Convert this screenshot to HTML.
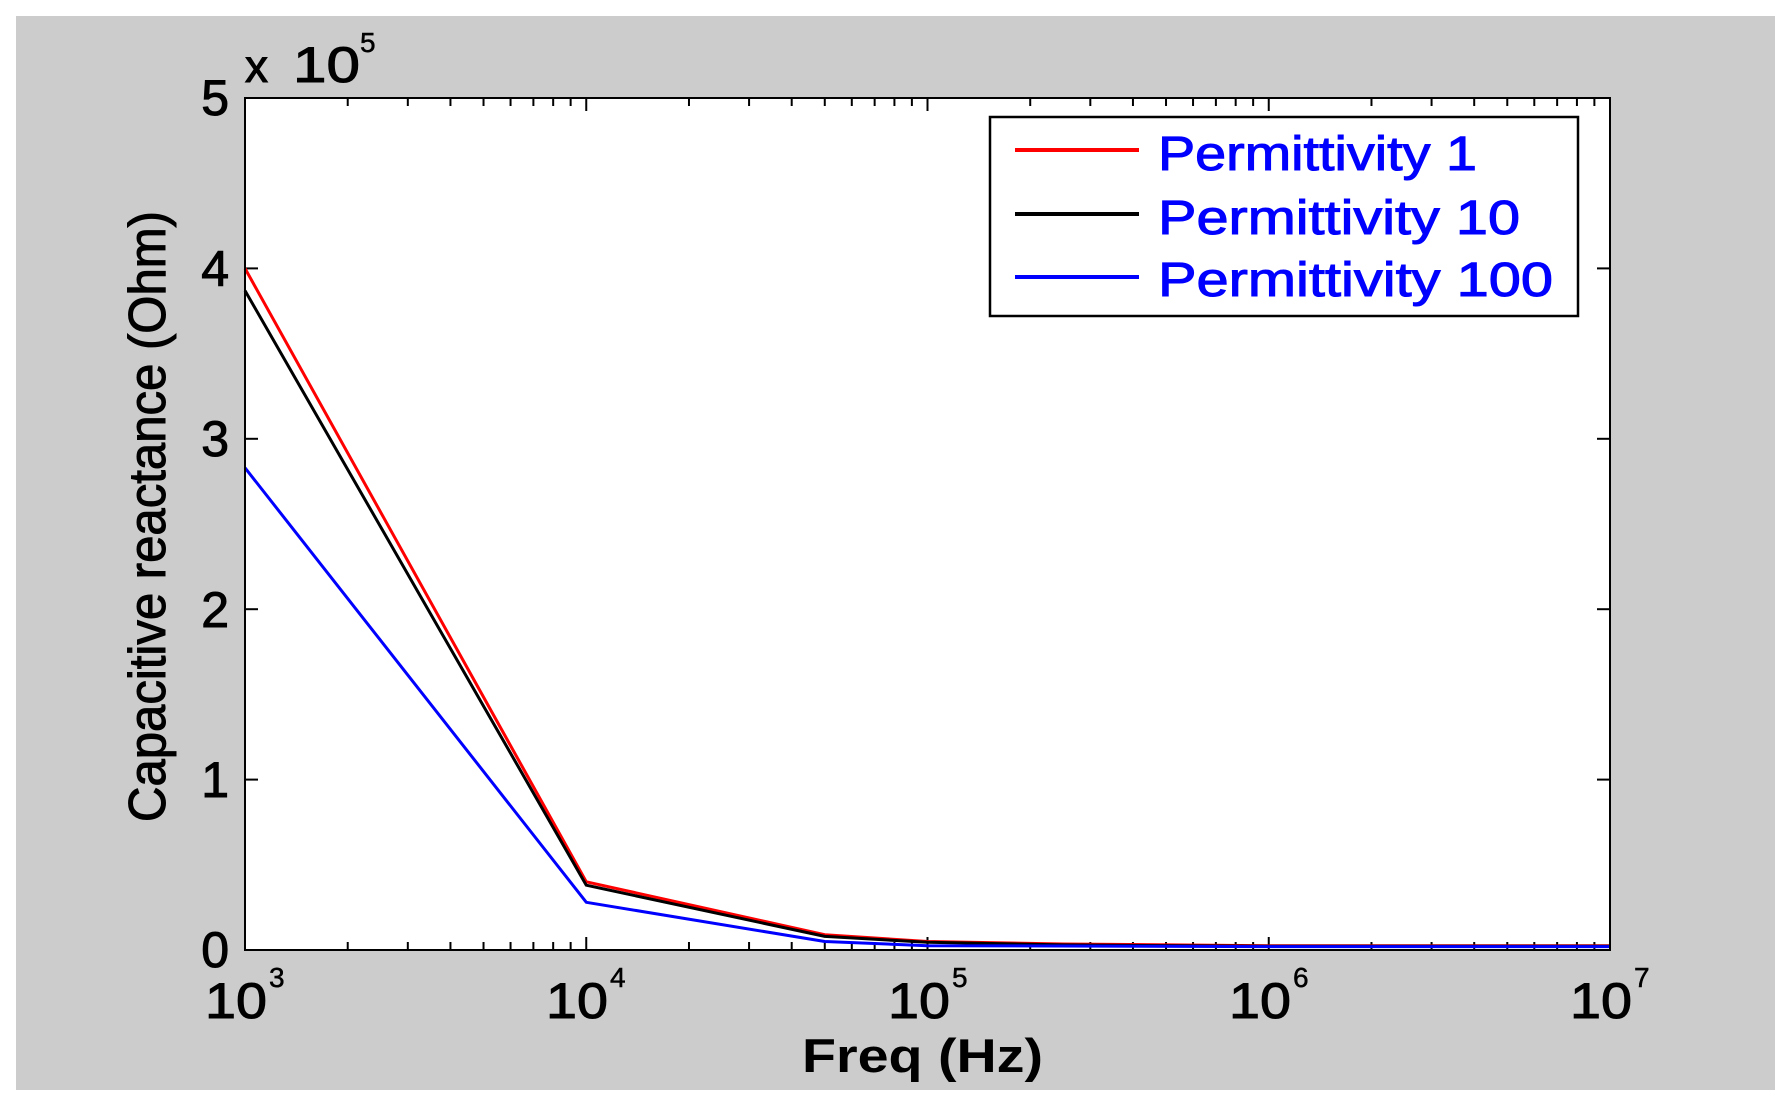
<!DOCTYPE html>
<html><head><meta charset="utf-8"><style>html,body{margin:0;padding:0;background:#fff}svg{display:block}</style></head><body>
<svg id="s" width="1790" height="1106" xmlns="http://www.w3.org/2000/svg" font-family="Liberation Sans, Arial, sans-serif">
<rect x="0" y="0" width="1790" height="1106" fill="#fff"/>
<rect x="16" y="16" width="1759" height="1074" fill="#cccccc"/>
<rect x="245" y="98" width="1365" height="852" fill="#fff"/>
<g id="ticks" stroke="#000" stroke-width="2" fill="none"></g>
<g fill="none" stroke-width="3" stroke-linejoin="round">
<polyline id="red" stroke="#ff0000" points=""/>
<polyline id="blk" stroke="#000" points=""/>
<polyline id="blu" stroke="#0000ff" points=""/>
</g>
<rect x="245" y="98" width="1365" height="852" fill="none" stroke="#000" stroke-width="2"/>
<g font-size="50" fill="#000" stroke="#000" stroke-width="1" text-anchor="end">
<text x="229" y="967">0</text><text x="229" y="797">1</text><text x="229" y="627">2</text><text x="229" y="456">3</text><text x="229" y="286">4</text><text x="229" y="115">5</text>
</g>
<g font-size="50" fill="#000" stroke="#000" stroke-width="1">
<text x="205" y="1018" textLength="62" lengthAdjust="spacingAndGlyphs">10</text><text x="269" y="987" font-size="28" stroke-width="0.5">3</text>
<text x="546" y="1018" textLength="62" lengthAdjust="spacingAndGlyphs">10</text><text x="610" y="987" font-size="28" stroke-width="0.5">4</text>
<text x="888" y="1018" textLength="62" lengthAdjust="spacingAndGlyphs">10</text><text x="952" y="987" font-size="28" stroke-width="0.5">5</text>
<text x="1229" y="1018" textLength="62" lengthAdjust="spacingAndGlyphs">10</text><text x="1293" y="987" font-size="28" stroke-width="0.5">6</text>
<text x="1570" y="1018" textLength="62" lengthAdjust="spacingAndGlyphs">10</text><text x="1634" y="987" font-size="28" stroke-width="0.5">7</text>
<text x="245" y="82" font-size="46">x</text>
<text x="293" y="82" textLength="67" lengthAdjust="spacingAndGlyphs">10</text><text x="360" y="52" font-size="28" stroke-width="0.5">5</text>
</g>
<text x="802" y="1072" font-size="47" font-weight="bold" textLength="241" lengthAdjust="spacingAndGlyphs">Freq (Hz)</text>
<text transform="translate(165,822) rotate(-90)" font-size="52" stroke="#000" stroke-width="1" textLength="611" lengthAdjust="spacingAndGlyphs">Capacitive reactance (Ohm)</text>
<rect x="990" y="117" width="588" height="199" fill="#fff" stroke="#000" stroke-width="2.5"/>
<line x1="1015" y1="150" x2="1139" y2="150" stroke="#ff0000" stroke-width="4"/>
<line x1="1015" y1="214" x2="1139" y2="214" stroke="#000" stroke-width="4"/>
<line x1="1015" y1="277" x2="1139" y2="277" stroke="#0000ff" stroke-width="4"/>
<g font-size="48" fill="#0000ff" stroke="#0000ff" stroke-width="1">
<text x="1158" y="170" textLength="319" lengthAdjust="spacingAndGlyphs">Permittivity 1</text>
<text x="1158" y="234" textLength="362" lengthAdjust="spacingAndGlyphs">Permittivity 10</text>
<text x="1158" y="296" textLength="395" lengthAdjust="spacingAndGlyphs">Permittivity 100</text>
</g>
<script>
(function(){
var NS="http://www.w3.org/2000/svg";
var L=245,R=1610,T=98,B=950,D=(R-L)/4;
function X(f){return L+(Math.log10(f)-3)*D;}
function Y(v){return B-v*(B-T)/5;}
var g=document.getElementById('ticks');
function ln(x1,y1,x2,y2){var e=document.createElementNS(NS,'line');e.setAttribute('x1',x1);e.setAttribute('y1',y1);e.setAttribute('x2',x2);e.setAttribute('y2',y2);g.appendChild(e);}
for(var d=3;d<7;d++){for(var k=1;k<10;k++){if(k==1&&d==3)continue;var x=X(k*Math.pow(10,d));var len=(k==1)?13:8;ln(x,B,x,B-len);ln(x,T,x,T+len);}}
for(var v=1;v<5;v++){var y=Y(v);ln(L,y,L+13,y);ln(R,y,R-13,y);}
function pts(d){return d.map(function(p){return X(p[0]).toFixed(1)+','+Y(p[1]).toFixed(1);}).join(' ');}
document.getElementById('red').setAttribute('points',pts([[1e3,4.0],[1e4,0.40],[5e4,0.09],[1e5,0.05],[2.5e5,0.035],[1e6,0.025],[1e7,0.025]]));
document.getElementById('blk').setAttribute('points',pts([[1e3,3.87],[1e4,0.38],[5e4,0.08],[1e5,0.045],[2.5e5,0.03],[1e6,0.022],[1e7,0.022]]));
document.getElementById('blu').setAttribute('points',pts([[1e3,2.83],[1e4,0.28],[5e4,0.05],[1e5,0.025],[1e6,0.02],[1e7,0.02]]));
})();
</script>
</svg>
</body></html>
